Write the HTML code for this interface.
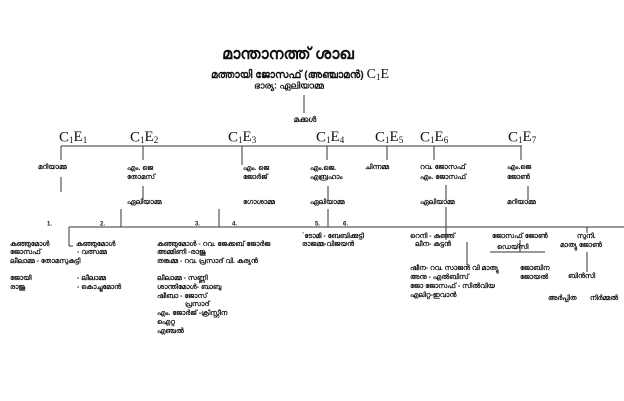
<!DOCTYPE html>
<html><head><meta charset="utf-8"><style>
html,body{margin:0;padding:0;background:#fff;}
svg{display:block}
.m{font-family:"Liberation Sans","Noto Sans CJK SC",sans-serif;font-weight:bold;font-size:7px;fill:#111;dominant-baseline:middle}
.c{font-family:"Liberation Serif",serif;font-size:15px;fill:#111;dominant-baseline:middle}
.s{font-size:9px}
line{stroke:#333;stroke-width:1}
</style></head><body>
<svg width="624" height="401" viewBox="0 0 624 401" xmlns="http://www.w3.org/2000/svg">
<text class="m" x="288" y="55" text-anchor="middle" style="font-size:16px">മാന്താനത്ത് ശാഖ</text>
<text class="m" x="300" y="75" text-anchor="middle" style="font-size:10.5px">മത്തായി ജോസഫ് (അഞ്ചാമൻ) <tspan style="font-family:'Liberation Serif',serif;font-weight:normal;font-size:14px">C</tspan><tspan style="font-family:'Liberation Serif',serif;font-weight:normal;font-size:9px" dy="3">1</tspan><tspan style="font-family:'Liberation Serif',serif;font-weight:normal;font-size:14px" dy="-3">E</tspan></text>
<text class="m" x="289" y="86" text-anchor="middle" style="font-size:9px">ഭാര്യ: ഏലിയാമ്മ</text>
<line x1="304" y1="95" x2="304" y2="113"/>
<text class="m" x="305" y="120" text-anchor="middle" style="font-size:8px">മക്കൾ</text>

<g>
<text class="c" x="59" y="138">C<tspan class="s" dy="3">1</tspan><tspan dy="-3">E</tspan><tspan class="s" dy="3">1</tspan></text>
<text class="c" x="130" y="138">C<tspan class="s" dy="3">1</tspan><tspan dy="-3">E</tspan><tspan class="s" dy="3">2</tspan></text>
<text class="c" x="228" y="138">C<tspan class="s" dy="3">1</tspan><tspan dy="-3">E</tspan><tspan class="s" dy="3">3</tspan></text>
<text class="c" x="316" y="138">C<tspan class="s" dy="3">1</tspan><tspan dy="-3">E</tspan><tspan class="s" dy="3">4</tspan></text>
<text class="c" x="375" y="138">C<tspan class="s" dy="3">1</tspan><tspan dy="-3">E</tspan><tspan class="s" dy="3">5</tspan></text>
<text class="c" x="420" y="138">C<tspan class="s" dy="3">1</tspan><tspan dy="-3">E</tspan><tspan class="s" dy="3">6</tspan></text>
<text class="c" x="508" y="138">C<tspan class="s" dy="3">1</tspan><tspan dy="-3">E</tspan><tspan class="s" dy="3">7</tspan></text>
</g>
<line x1="61" y1="146" x2="522" y2="146"/>
<line x1="61" y1="146" x2="61" y2="160"/>
<line x1="143" y1="146" x2="143" y2="160"/>
<line x1="242" y1="146" x2="242" y2="165"/>
<line x1="327" y1="146" x2="327" y2="160"/>
<line x1="387" y1="146" x2="387" y2="160"/>
<line x1="434" y1="146" x2="434" y2="160"/>
<line x1="521" y1="146" x2="521" y2="160"/>

<text class="m" x="38" y="167">മറിയാമ്മ</text>
<line x1="61" y1="177" x2="61" y2="192"/>
<text class="m" x="127" y="168">എം. ജെ</text>
<text class="m" x="127" y="177">തോമസ്</text>
<line x1="143" y1="186" x2="143" y2="200"/>
<text class="m" x="127" y="202">ഏലിയാമ്മ</text>
<text class="m" x="243" y="168">എം. ജെ</text>
<text class="m" x="243" y="177">ജോർജ്</text>
<text class="m" x="243" y="202">ഗോശാമ്മ</text>
<text class="m" x="310" y="168">എം.ജെ.</text>
<text class="m" x="310" y="177">എബ്രഹാം</text>
<line x1="328" y1="186" x2="328" y2="200"/>
<text class="m" x="310" y="202">ഏലിയാമ്മ</text>
<text class="m" x="365" y="167">ചിന്നമ്മ</text>
<text class="m" x="420" y="167">റവ. ജോസഫ്</text>
<text class="m" x="420" y="177">എം. ജോസഫ്</text>
<line x1="446" y1="185" x2="446" y2="200"/>
<text class="m" x="420" y="202">ഏലിയാമ്മ</text>
<text class="m" x="507" y="167">എം.ജെ</text>
<text class="m" x="507" y="177">ജോൺ</text>
<line x1="528" y1="186" x2="528" y2="200"/>
<text class="m" x="507" y="202">മറിയാമ്മ</text>

<text class="m" x="47" y="224" style="font-size:6px">1.</text>
<text class="m" x="100" y="224" style="font-size:6px">2.</text>
<text class="m" x="195" y="224" style="font-size:6px">3.</text>
<text class="m" x="232" y="224" style="font-size:6px">4.</text>
<text class="m" x="315" y="224" style="font-size:6px">5.</text>
<text class="m" x="343" y="224" style="font-size:6px">6.</text>
<line x1="69" y1="227" x2="624" y2="227"/>
<line x1="121" y1="209" x2="121" y2="227"/>
<line x1="219" y1="209" x2="219" y2="227"/>
<line x1="328" y1="209" x2="328" y2="227"/>
<line x1="446" y1="207" x2="446" y2="240"/>
<line x1="69" y1="227" x2="69" y2="246"/>
<line x1="587" y1="227" x2="587" y2="233"/>

<text class="m" x="10" y="244">കുഞ്ഞുമോൾ</text>
<text class="m" x="10" y="252">ജോസഫ്</text>
<text class="m" x="10" y="261">ലീലാമ്മ - തോമസുകുട്ടി</text>
<text class="m" x="10" y="278">ജോയി</text>
<text class="m" x="10" y="287">രാജു</text>
<line x1="69" y1="246" x2="73" y2="246"/>
<text class="m" x="76" y="244">കുഞ്ഞുമോൾ</text>
<text class="m" x="77" y="252">- വത്സമ്മ</text>
<text class="m" x="77" y="278">- ലീലാമ്മ</text>
<text class="m" x="77" y="287">- കൊച്ചുമോൻ</text>

<text class="m" x="157" y="244">കുഞ്ഞുമോൾ - റവ. ജേക്കബ് ജോർജ</text>
<text class="m" x="157" y="252">അമ്മിണി -രാജു</text>
<text class="m" x="157" y="261">തങ്കമ്മ - റവ. പ്രസാദ് വി. കുര്യൻ</text>
<text class="m" x="157" y="278">ലീലാമ്മ - സണ്ണി</text>
<text class="m" x="157" y="287">ശാന്തിമോൾ- ബാബു</text>
<text class="m" x="157" y="296">ഷീബാ - ജോസ്</text>
<text class="m" x="185" y="304">പ്രസാദ്</text>
<text class="m" x="157" y="313">എം. ജോർജ് -ക്രിസ്റ്റീന</text>
<text class="m" x="157" y="322">ഐറ്റ</text>
<text class="m" x="157" y="331">എഞ്ചൽ</text>

<text class="m" x="302" y="236">`ടോമി - ബേബിക്കുട്ടി</text>
<text class="m" x="302" y="244">രാജമ്മ-വിജയൻ</text>

<text class="m" x="410" y="236">റെനി - കുഞ്ഞ്</text>
<text class="m" x="415" y="244">ലീന- കുട്ടൻ</text>
<line x1="467" y1="242" x2="467" y2="265"/>
<text class="m" x="410" y="268">ഷീന- റവ. സാജൻ വി മാത്യു</text>
<text class="m" x="410" y="277">അനു - എൽബിസ്</text>
<text class="m" x="410" y="286">ജോ ജോസഫ് - സിൽവിയ</text>
<text class="m" x="410" y="295">എലിറ്റ-ഇവാൻ</text>

<text class="m" x="492" y="236">ജോസഫ് ജോൺ</text>
<line x1="520" y1="240" x2="520" y2="252"/>
<text class="m" x="497" y="247">ഡെയ്സി</text>
<line x1="490" y1="252" x2="545" y2="252"/>
<text class="m" x="520" y="268">ജോബിന</text>
<text class="m" x="520" y="277">ജോയൽ</text>

<text class="m" x="577" y="236">സുനി.</text>
<text class="m" x="560" y="245">മാത്യു ജോൺ</text>
<line x1="587" y1="252" x2="587" y2="272"/>
<text class="m" x="568" y="276">ബിൻസി</text>
<text class="m" x="548" y="298">അർപ്പിത</text>
<text class="m" x="590" y="298">നിർമ്മൽ</text>
</svg>
</body></html>
